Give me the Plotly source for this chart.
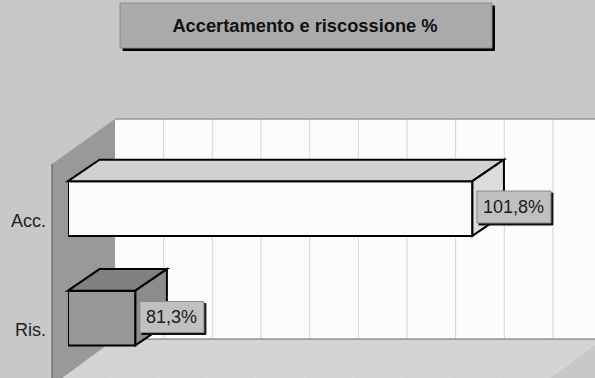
import plotly.graph_objects as go

categories = ["Ris.", "Acc."]
values = [81.3, 101.8]
labels = ["81,3%", "101,8%"]
title_text = "Accertamento e riscossione %"

front_colors = ["#989898", "#fcfcfc"]
top_colors = ["#808080", "#d0d0d0"]
side_colors = ["#8c8c8c", "#dcdcdc"]

W, H = 595, 378
PLOT_L = 68
AXIS_MIN = 77.2
PX_PER_UNIT = 16.44
MAJOR = 2.96
N_GRID = 10
CAT_STEP = 109.5
RIS_Y = 318.0
BAR_W = 0.5
DX, DY = 31.5, 21.5
WALL_DX, WALL_DY = 47, 45
FONT = "Liberation Sans"

x_max = AXIS_MIN + (W - PLOT_L) / PX_PER_UNIT
y_lo = -(H - RIS_Y) / CAT_STEP
y_hi = RIS_Y / CAT_STEP


def vx(v):
    return PLOT_L + (v - AXIS_MIN) * PX_PER_UNIT


def cy(i):
    return RIS_Y - i * CAT_STEP


def px(x):
    return (x - PLOT_L) / (W - PLOT_L)


def py(y):
    return 1 - y / H


def poly(points, fill, line=None, width=0, layer="above"):
    path = "M " + " L ".join(f"{px(x):.5f},{py(y):.5f}" for x, y in points) + " Z"
    return dict(type="path", xref="paper", yref="paper", path=path, fillcolor=fill,
                line=dict(color=line or fill, width=width), layer=layer)


def seg(x0, y0, x1, y1, color, width=1, layer="below"):
    return dict(type="line", xref="paper", yref="paper", x0=px(x0), y0=py(y0), x1=px(x1), y1=py(y1),
                line=dict(color=color, width=width), layer=layer)


def box(x0, y0, x1, y1, fill, line=None, layer="above"):
    return dict(type="rect", xref="paper", yref="paper", x0=px(x0), y0=py(y0), x1=px(x1), y1=py(y1),
                fillcolor=fill, line=dict(color=line or fill, width=1), layer=layer)


shapes = []
# room
back_l = PLOT_L + WALL_DX
shapes.append(box(back_l, 119, W, 339, "#fcfcfc", layer="below"))
shapes.append(poly([(back_l, 339), (W, 339), (W, 345), (551, 378), (62, 378)], "#d3d3d3", layer="below"))
for n in range(1, N_GRID + 1):
    gx = vx(AXIS_MIN + n * MAJOR) + WALL_DX
    shapes.append(seg(gx, 119, gx, 339, "#d4d4d4"))
    shapes.append(seg(gx, 339, gx - 55, 378, "#dadada"))
shapes.append(poly([(52, 164), (back_l, 119), (back_l, 339), (62, 378), (52, 378)], "#999999", layer="below"))
shapes.append(seg(52, 164, 52, 378, "#555555"))
shapes.append(seg(back_l, 119, W, 119, "#666666"))
shapes.append(seg(back_l, 339, W, 339, "#666666"))

# 3D faces of the bars
for i, v in enumerate(values):
    x0, x1 = vx(AXIS_MIN), vx(v)
    yt = cy(i) - BAR_W / 2 * CAT_STEP
    yb = cy(i) + BAR_W / 2 * CAT_STEP
    shapes.append(poly([(x0, yt), (x0 + DX, yt - DY), (x1 + DX, yt - DY), (x1, yt)], top_colors[i], "#000000", 2))
    shapes.append(poly([(x1, yt), (x1 + DX, yt - DY), (x1 + DX, yb - DY), (x1, yb)], side_colors[i], "#000000", 2))
    # value label box with shadow
    lw = 74 if len(labels[i]) > 5 else 64
    bx, by = x1 + 4.5, cy(i) - 17.5 if i else cy(i) - 16.5
    bh = 32 if i else 31
    shapes.append(box(bx + 2, by + 2, bx + lw + 2, by + bh + 2, "#111111"))
    shapes.append(box(bx, by, bx + lw, by + bh, "#c0c0c0", "#8a8a8a"))

# title box
shapes.append(box(123, 6, 494.5, 50.5, "#000000", layer="below"))
shapes.append(box(120, 3, 492, 48, "#aaaaaa", "#8c8c8c", layer="below"))

annotations = []
for i, v in enumerate(values):
    lw = 74 if len(labels[i]) > 5 else 64
    annotations.append(dict(
        xref="paper", yref="paper", x=px(vx(v) + 4.5 + lw / 2),
        y=py(cy(i) - (1.5 if i else 1)), text=labels[i], showarrow=False,
        xanchor="center", yanchor="middle",
        font=dict(family=FONT, size=18, color="#1a1a1a")))

fig = go.Figure(go.Bar(
    y=categories, x=[v - AXIS_MIN for v in values], base=AXIS_MIN, orientation="h",
    width=BAR_W, cliponaxis=False,
    marker=dict(color=front_colors, line=dict(color="#000000", width=2)),
    hoverinfo="skip"))

fig.update_layout(
    width=W, height=H, autosize=False,
    margin=dict(l=PLOT_L, r=0, t=0, b=0, pad=0),
    paper_bgcolor="#c8c8c8", plot_bgcolor="rgba(0,0,0,0)",
    showlegend=False,
    title=dict(text=f"<b>{title_text}</b>", x=px(305), xref="paper", xanchor="center",
               y=py(26), yref="paper", yanchor="middle",
               font=dict(family=FONT, size=18.3, color="#111111")),
    xaxis=dict(range=[AXIS_MIN, x_max], showgrid=False, zeroline=False, showline=False,
               showticklabels=False, ticks=""),
    yaxis=dict(type="category", categoryorder="array", categoryarray=categories,
               range=[y_lo, y_hi], showgrid=False, zeroline=False, showline=False, ticks="",
               ticklabelstandoff=21, ticklabelshift=12,
               tickfont=dict(family=FONT, size=18, color="#222222")),
    shapes=shapes, annotations=annotations)

fig.write_html("out.html", config={"displayModeBar": False},
               post_script="document.body.style.margin='0';document.body.style.overflow='hidden';")
